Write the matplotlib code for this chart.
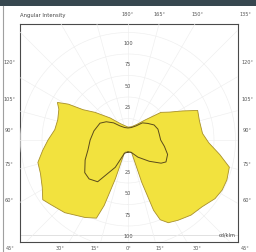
import numpy as np
import matplotlib
matplotlib.use("Agg")
import matplotlib.pyplot as plt
from matplotlib.patches import Rectangle

# ---------------- data (gamma in degrees from nadir, intensity in cd/klm) -------------
outer_right_gamma = [0, 10, 16, 18, 20, 22, 26, 32, 40, 48, 56, 62, 68, 75, 81, 88, 95, 105, 113, 118, 124, 130, 140, 150, 165, 180]
outer_right_val   = [14, 14, 15, 52, 87, 100, 107, 110, 114, 116, 122, 124, 124, 122, 108, 94, 87, 86, 88, 72, 58, 50, 30, 21, 16, 15]
outer_left_gamma  = [0, 10, 16, 18, 20, 22, 29, 41, 50, 55, 61, 69, 76, 83, 90, 98, 106, 114, 118, 121, 124, 130, 141, 155, 180]
outer_left_val    = [14, 14, 16, 47, 81, 98, 103, 112, 117, 121, 114, 109, 108, 100, 93, 86, 85, 88, 93, 81, 63, 50, 33, 21, 15]
inner_right_gamma = [0, 15, 30, 45, 55, 60, 70, 80, 90, 100, 110, 120, 130, 140, 150, 165, 180]
inner_right_val   = [14, 15, 23, 35, 47, 51, 49, 43, 38, 37, 37, 35, 30, 26, 19, 15, 14]
inner_left_gamma  = [0, 15, 25, 36, 45, 53, 65, 76, 90, 105, 121, 130, 140, 150, 165, 180]
inner_left_val    = [14, 16, 35, 60, 64, 63, 55, 48, 44, 41, 38, 33, 26, 19, 15, 14]

ring_values = [25, 50, 75, 100, 125]
radial_labels = ["25", "50", "75", "100"]
ray_angles = list(range(0, 360, 15))
title_text = "Angular Intensity"
top_labels = ["180°", "165°", "150°", "135°"]
side_labels = ["120°", "105°", "90°", "75°", "60°"]
bottom_labels = ["45°", "30°", "15°", "0°", "15°", "30°", "45°"]
unit_text = "cd/klm"

# ---------------- figure ---------------------------------------------------------------
W, H = 256, 252
fig = plt.figure(figsize=(W / 100, H / 100), dpi=100)
fig.patch.set_facecolor("white")

def fx(px):
    return px / W

def fy(py):
    return 1 - py / H

# top dark band and left border
fig.patches.append(Rectangle((0, fy(6)), 1, 6 / H, transform=fig.transFigure,
                             facecolor="#37474f", edgecolor="none"))
fig.lines.append(plt.Line2D([fx(2.5), fx(2.5)], [0, fy(6)], transform=fig.transFigure,
                            color="#a0a0a0", lw=0.8))

# frame box
frame = fig.add_axes([fx(20), fy(242), 218 / W, 218 / H])
frame.set_xticks([]); frame.set_yticks([])
frame.set_facecolor("white")
for s in frame.spines.values():
    s.set_color("#4a4a4a"); s.set_linewidth(0.8)
frame.set_xlim(0, 1); frame.set_ylim(0, 1)
frame.axhline(0.03, color="#dcdcdc", lw=0.6)

# polar axes centred at (128,140) px
cx, cy, Rp = 128, 140, 160
scale = 0.86  # px per cd/klm
rmax = Rp / scale
ax = fig.add_axes([fx(cx - Rp), fy(cy + Rp), 2 * Rp / W, 2 * Rp / H], projection="polar")
ax.set_facecolor("none")
ax.spines["polar"].set_visible(False)
ax.grid(False)
ax.set_xticks([]); ax.set_yticks([])
ax.set_theta_zero_location("S")
ax.set_theta_direction(1)
ax.set_ylim(0, rmax)

clip = frame.patch
grid_kw = dict(color="#eeeeee", lw=0.45, zorder=1)
for a in ray_angles:
    ln, = ax.plot([np.deg2rad(a)] * 2, [0, rmax], **grid_kw)
    ln.set_clip_path(clip)
tt = np.linspace(0, 2 * np.pi, 361)
for rv in ring_values:
    ln, = ax.plot(tt, [rv] * len(tt), **grid_kw)
    ln.set_clip_path(clip)

def closed_curve(rg, rv, lg, lv):
    th = list(np.deg2rad(rg)) + list(np.deg2rad(360 - np.array(lg[::-1])))
    r = list(rv) + list(lv[::-1])
    return th, r

th_o, r_o = closed_curve(outer_right_gamma, outer_right_val, outer_left_gamma, outer_left_val)
th_i, r_i = closed_curve(inner_right_gamma, inner_right_val, inner_left_gamma, inner_left_val)

ax.fill(th_o, r_o, facecolor="#f2e23e", edgecolor="#a8902a", lw=0.6, zorder=3)
ax.plot(th_i, r_i, color="#5a4a1c", lw=0.7, zorder=4)

# radial labels
lab_kw = dict(fontsize=3.6, color="#505050", ha="center", va="center", zorder=5)
for v, t in zip(ring_values, radial_labels):
    ax.text(np.pi, v + 12.5, t, **lab_kw)
    ax.text(0, v + 12.5, t, **lab_kw)

# angle labels around frame
txt_kw = dict(fontsize=3.6, color="#555555", ha="center", va="center")
fig.text(fx(20), fy(15), title_text, ha="left", va="center", fontsize=3.8, color="#444444")
for t, x in zip(top_labels, [128, 160, 197, 245]):
    fig.text(fx(x), fy(15), t, **txt_kw)
for t, y in zip(side_labels, [63, 100, 130, 164, 200]):
    fig.text(fx(9), fy(y), t, **txt_kw)
    fig.text(fx(247), fy(y), t, **txt_kw)
for t, x in zip(bottom_labels, [10, 60, 95, 128, 160, 197, 245]):
    fig.text(fx(x), fy(248), t, **txt_kw)
fig.text(fx(236), fy(235), unit_text, ha="right", va="center", fontsize=3.6, color="#444444")

fig.savefig("out.png", dpi=100)
